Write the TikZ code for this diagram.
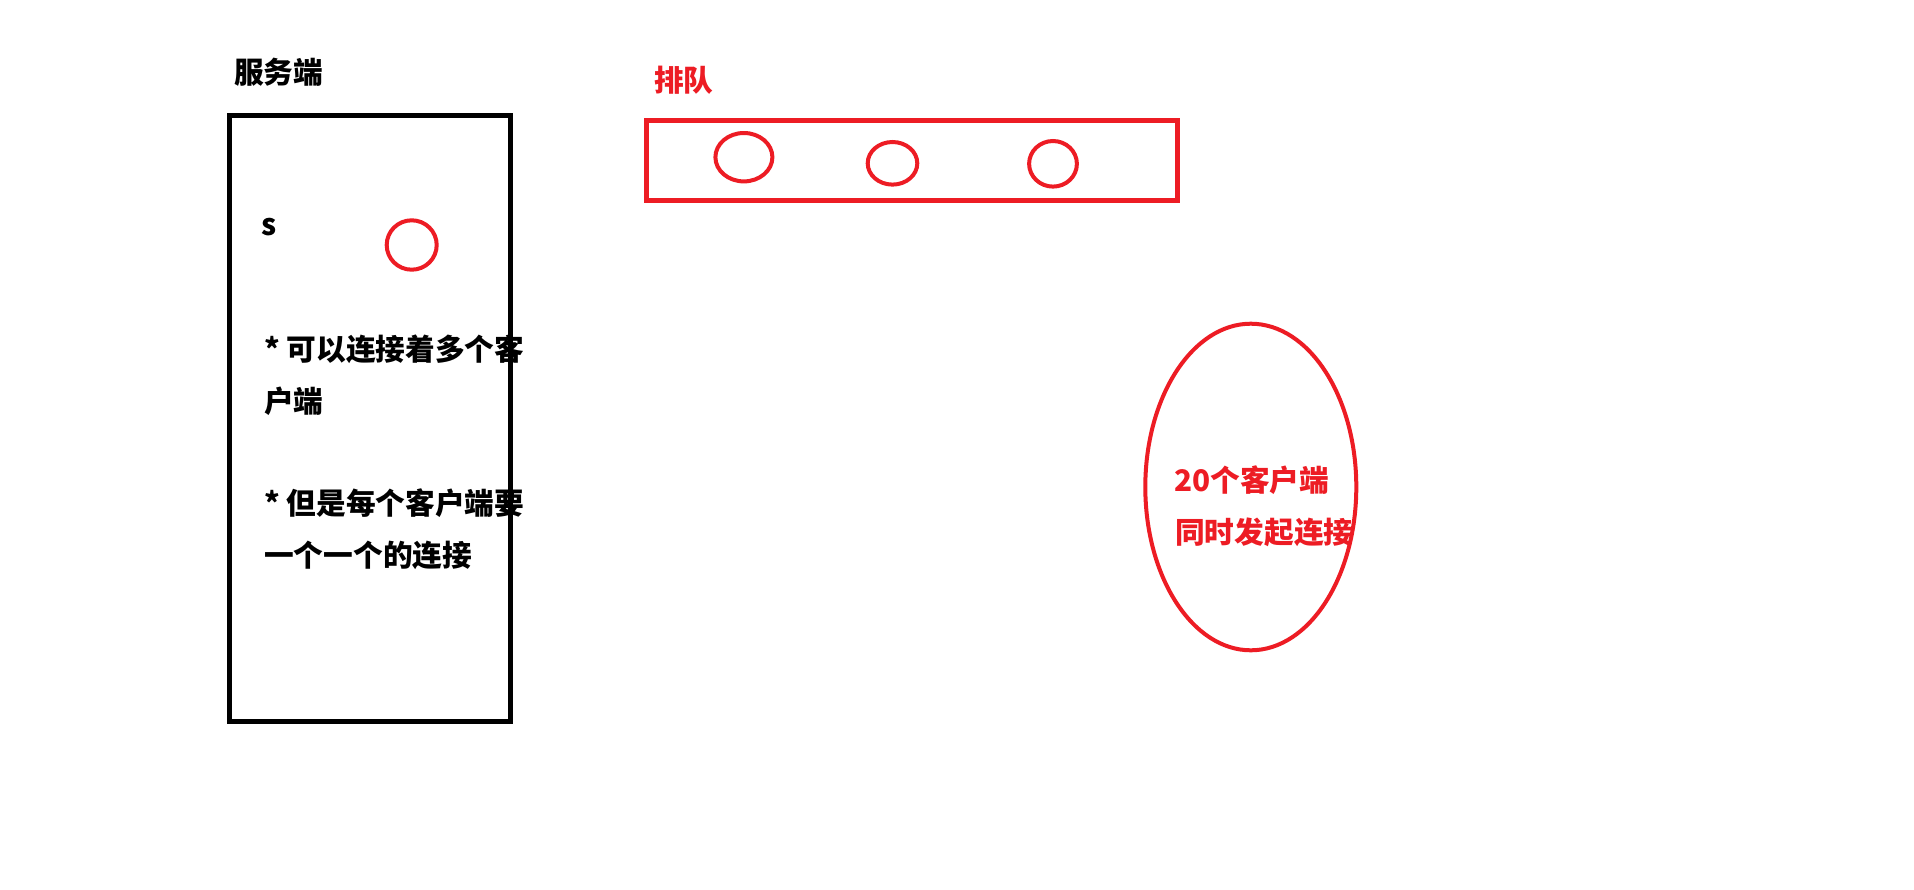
\documentclass[tikz,border=0pt]{standalone}
\usepackage{fontspec}
\setmainfont{Noto Sans CJK SC}
\definecolor{pred}{HTML}{ED1C24}
\begin{document}
\begin{tikzpicture}[x=1pt,y=-1pt,
  txt/.style={anchor=base west, inner sep=0pt, font=\fontsize{29.7}{36}\selectfont\bfseries},
  redtxt/.style={txt, text=pred},
  blackbox/.style={draw=black, line width=5pt},
  redbox/.style={draw=pred, line width=5pt},
  ring/.style={draw=pred, line width=4pt}]
\fill[white] (0,0) rectangle (1914,889);
\useasboundingbox (0,0) rectangle (1914,889);

% server
\node[txt] (servertitle) at (234,83.5) {服务端};
\draw[blackbox] (229.5,115.5) rectangle (510,721);
\node[txt] (s) at (261,235) {s};
\draw[ring] (411.7,245) ellipse [x radius=25, y radius=24.7];
\node[txt] (l1) at (264,360.5) {* 可以连接着多个客};
\node[txt] (l2) at (264,412.5) {户端};
\node[txt] (l3) at (264,514) {* 但是每个客户端要};
\node[txt] (l4) at (264,566) {一个一个的连接};

% queue
\node[redtxt] (queuetitle) at (654,91.5) {排队};
\draw[redbox] (646.7,120.7) rectangle (1177.5,200.5);
\draw[ring] (743.9,157.2) ellipse [x radius=28.5, y radius=24.2];
\draw[ring] (892.5,163.3) ellipse [x radius=24.8, y radius=21.3];
\draw[ring] (1053,163.8) ellipse [x radius=23.9, y radius=22.8];

% clients
\draw[ring] (1250.8,487) ellipse [x radius=105.5, y radius=163.3];
\node[redtxt] (c1) at (1174,491.5) {20个客户端};
\node[redtxt] (c2) at (1175,543.5) {同时发起连接};
\end{tikzpicture}
\end{document}
